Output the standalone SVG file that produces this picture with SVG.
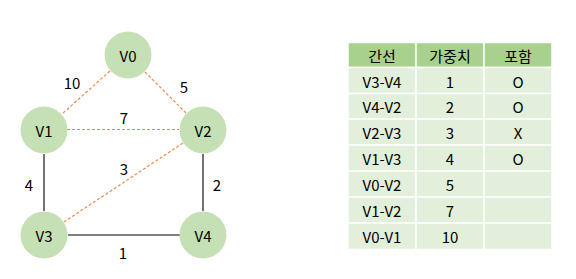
<svg xmlns="http://www.w3.org/2000/svg" width="576" height="279" viewBox="0 0 576 279">
<style>
text{font-family:"Noto Sans CJK KR","Noto Sans",sans-serif;font-size:15px;fill:#000;text-anchor:middle;dominant-baseline:central}
.node circle{fill:#c5e0b4}
.solid{stroke:#000;stroke-width:1.1;fill:none}
.dash{stroke:#f0894a;stroke-width:1.2;stroke-dasharray:3 2;fill:none}
.hd{fill:#a9d18e;stroke:#fff;stroke-width:1.5}
.bd{fill:#e2efda;stroke:#fff;stroke-width:1.5}
</style>
<rect width="576" height="279" fill="#fff"/>
<g id="connectors">
<line class="dash" x1="110" y1="71" x2="62" y2="114"/>
<line class="dash" x1="145" y1="72" x2="186" y2="113"/>
<line class="dash" x1="67" y1="129.5" x2="179" y2="129.5"/>
<line class="dash" x1="183" y1="143" x2="64" y2="222"/>
<line class="solid" x1="44" y1="154" x2="44" y2="211"/>
<line class="solid" x1="203" y1="154" x2="203" y2="211"/>
<line class="solid" x1="68" y1="235" x2="180" y2="235"/>
<text x="72" y="82">10</text>
<text x="184" y="86">5</text>
<text x="124" y="117">7</text>
<text x="29" y="184">4</text>
<text x="124" y="168">3</text>
<text x="217" y="184">2</text>
<text x="123" y="252">1</text>
</g>
<g id="V0" class="node"><circle cx="128" cy="55" r="23.5"/><text x="128" y="55">V0</text></g>
<g id="V1" class="node"><circle cx="44" cy="130" r="23.5"/><text x="44" y="130">V1</text></g>
<g id="V2" class="node"><circle cx="203" cy="130" r="23.5"/><text x="203" y="130">V2</text></g>
<g id="V3" class="node"><circle cx="44" cy="235" r="23.5"/><text x="44" y="235">V3</text></g>
<g id="V4" class="node"><circle cx="203" cy="235" r="23.5"/><text x="203" y="235">V4</text></g>
<g id="table">
<rect class="hd" x="348" y="42.5" width="68" height="25"/>
<rect class="hd" x="416" y="42.5" width="68" height="25"/>
<rect class="hd" x="484" y="42.5" width="68" height="25"/>
<text x="382" y="55">간선</text><text x="450" y="55">가중치</text><text x="518" y="55">포함</text>
<g>
<rect class="bd" x="348" y="67.5" width="68" height="26"/><rect class="bd" x="416" y="67.5" width="68" height="26"/><rect class="bd" x="484" y="67.5" width="68" height="26"/>
<rect class="bd" x="348" y="93.5" width="68" height="25.5"/><rect class="bd" x="416" y="93.5" width="68" height="25.5"/><rect class="bd" x="484" y="93.5" width="68" height="25.5"/>
<rect class="bd" x="348" y="119" width="68" height="26"/><rect class="bd" x="416" y="119" width="68" height="26"/><rect class="bd" x="484" y="119" width="68" height="26"/>
<rect class="bd" x="348" y="145" width="68" height="26"/><rect class="bd" x="416" y="145" width="68" height="26"/><rect class="bd" x="484" y="145" width="68" height="26"/>
<rect class="bd" x="348" y="171" width="68" height="26"/><rect class="bd" x="416" y="171" width="68" height="26"/><rect class="bd" x="484" y="171" width="68" height="26"/>
<rect class="bd" x="348" y="197" width="68" height="26"/><rect class="bd" x="416" y="197" width="68" height="26"/><rect class="bd" x="484" y="197" width="68" height="26"/>
<rect class="bd" x="348" y="223" width="68" height="26.5"/><rect class="bd" x="416" y="223" width="68" height="26.5"/><rect class="bd" x="484" y="223" width="68" height="26.5"/>
</g>
<text x="382" y="81">V3-V4</text><text x="450" y="81">1</text><text x="518" y="81">O</text>
<text x="382" y="106">V4-V2</text><text x="450" y="106">2</text><text x="518" y="106">O</text>
<text x="382" y="132">V2-V3</text><text x="450" y="132">3</text><text x="518" y="132">X</text>
<text x="382" y="158">V1-V3</text><text x="450" y="158">4</text><text x="518" y="158">O</text>
<text x="382" y="184">V0-V2</text><text x="450" y="184">5</text>
<text x="382" y="210">V1-V2</text><text x="450" y="210">7</text>
<text x="382" y="236">V0-V1</text><text x="450" y="236">10</text>
</g>
</svg>
